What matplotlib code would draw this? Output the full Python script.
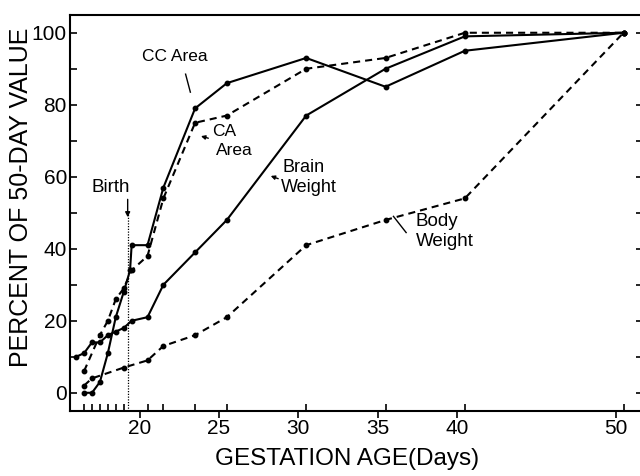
import matplotlib
matplotlib.use('Agg')
import matplotlib.pyplot as plt

plt.rcParams['font.family'] = ['Liberation Sans', 'DejaVu Sans']
narrow = ['Liberation Sans Narrow', 'Liberation Sans', 'DejaVu Sans']

# gestation age (days) and percent of 50-day value
cc_days = [16.5, 17, 17.5, 18, 18.5, 19, 19.4, 19.5, 20.5, 21.5, 23.5, 25.5, 30.5, 35.5, 40.5, 50.5]
cc_vals = [0, 0, 3, 11, 21, 28, 34, 41, 41, 57, 79, 86, 93, 85, 95, 100]

ca_days = [16.5, 17.5, 18, 18.5, 19, 19.5, 20.5, 21.5, 23.5, 25.5, 30.5, 35.5, 40.5, 50.5]
ca_vals = [6, 16, 20, 26, 29, 34, 38, 54, 75, 77, 90, 93, 100, 100]

brain_days = [16.0, 16.5, 17, 17.5, 18, 18.5, 19, 19.5, 20.5, 21.5, 23.5, 25.5, 30.5, 35.5, 40.5, 50.5]
brain_vals = [10, 11, 14, 14, 16, 17, 18, 20, 21, 30, 39, 48, 77, 90, 99, 100]

body_days = [16.5, 17, 19, 20.5, 21.5, 23.5, 25.5, 30.5, 35.5, 40.5, 50.5]
body_vals = [2, 4, 7, 9, 13, 16, 21, 41, 48, 54, 100]

birth_day = 19.25
major_x = [20, 25, 30, 35, 40, 50]
sample_days = [16.5, 17, 17.5, 18, 18.5, 19, 20.5, 21.5, 23.5, 25.5, 30.5, 35.5, 40.5, 50.5]

fig = plt.figure(figsize=(6.4, 4.76), dpi=100)
ax = fig.add_axes([0.109, 0.137, 0.895, 0.832])

dash = (0, (3.4, 2.4))
kw = dict(color='black', lw=1.5, marker='o', ms=3.2)
ax.plot(cc_days, cc_vals, ls='-', **kw)
ax.plot(ca_days, ca_vals, ls=dash, **kw)
ax.plot(brain_days, brain_vals, ls='-', **kw)
ax.plot(body_days, body_vals, ls=dash, **kw)

# birth marker
ax.plot([birth_day, birth_day], [-5, 50], color='black', lw=0.9, ls=(0, (1, 1.2)))
ax.annotate('', xy=(birth_day, 48), xytext=(birth_day, 54.5),
            arrowprops=dict(arrowstyle='-|>', color='black', lw=1, mutation_scale=7))
ax.text(18.2, 57, 'Birth', ha='center', va='center', fontsize=13.5)

# labels with pointer lines
ax.text(22.2, 93.3, 'CC Area', ha='center', va='center', fontsize=12.5)
ax.plot([22.9, 23.2], [88.5, 83.5], color='black', lw=1)
ax.text(24.6, 72.5, 'CA', ha='left', va='center', fontsize=12.5)
ax.text(24.8, 67.3, 'Area', ha='left', va='center', fontsize=12.5)
ax.annotate('', xy=(23.7, 71.5), xytext=(24.5, 70.5),
            arrowprops=dict(arrowstyle='-|>', color='black', lw=1, mutation_scale=6))
ax.text(29.0, 62.5, 'Brain', ha='left', va='center', fontsize=13)
ax.text(28.9, 57.0, 'Weight', ha='left', va='center', fontsize=13)
ax.annotate('', xy=(28.1, 60.5), xytext=(28.9, 59.2),
            arrowprops=dict(arrowstyle='-|>', color='black', lw=1, mutation_scale=6))
ax.text(37.4, 47.5, 'Body', ha='left', va='center', fontsize=13.5)
ax.text(37.4, 42.0, 'Weight', ha='left', va='center', fontsize=13.5)
ax.plot([36.0, 36.8], [49.0, 44.5], color='black', lw=1)

ax.set_xlim(15.6, 51.7)
ax.set_ylim(-5, 105)

ax.set_xticks(major_x)
ax.set_xticks(sample_days, minor=True)
ax.set_yticks(range(0, 101, 20))
ax.set_yticks(range(10, 101, 20), minor=True)
ax.tick_params(axis='x', which='major', direction='out', length=5, width=1.2,
               labelsize=15, pad=1)
ax.tick_params(axis='x', which='minor', direction='in', length=5, width=1.2)
ax.tick_params(axis='y', which='both', direction='in', length=5, width=1.2,
               labelsize=15, right=True, pad=2)
for lab in ax.get_xticklabels() + ax.get_yticklabels():
    lab.set_family(narrow)

for s in ax.spines.values():
    s.set_linewidth(1.5)

ax.set_xlabel('GESTATION AGE(Days)', fontsize=17.5)
ax.set_ylabel('PERCENT OF 50-DAY VALUE', fontsize=18)
ax.xaxis.set_label_coords(0.484, -0.093)
ax.yaxis.set_label_coords(-0.065, 0.54)

fig.savefig('out.png', dpi=100)
